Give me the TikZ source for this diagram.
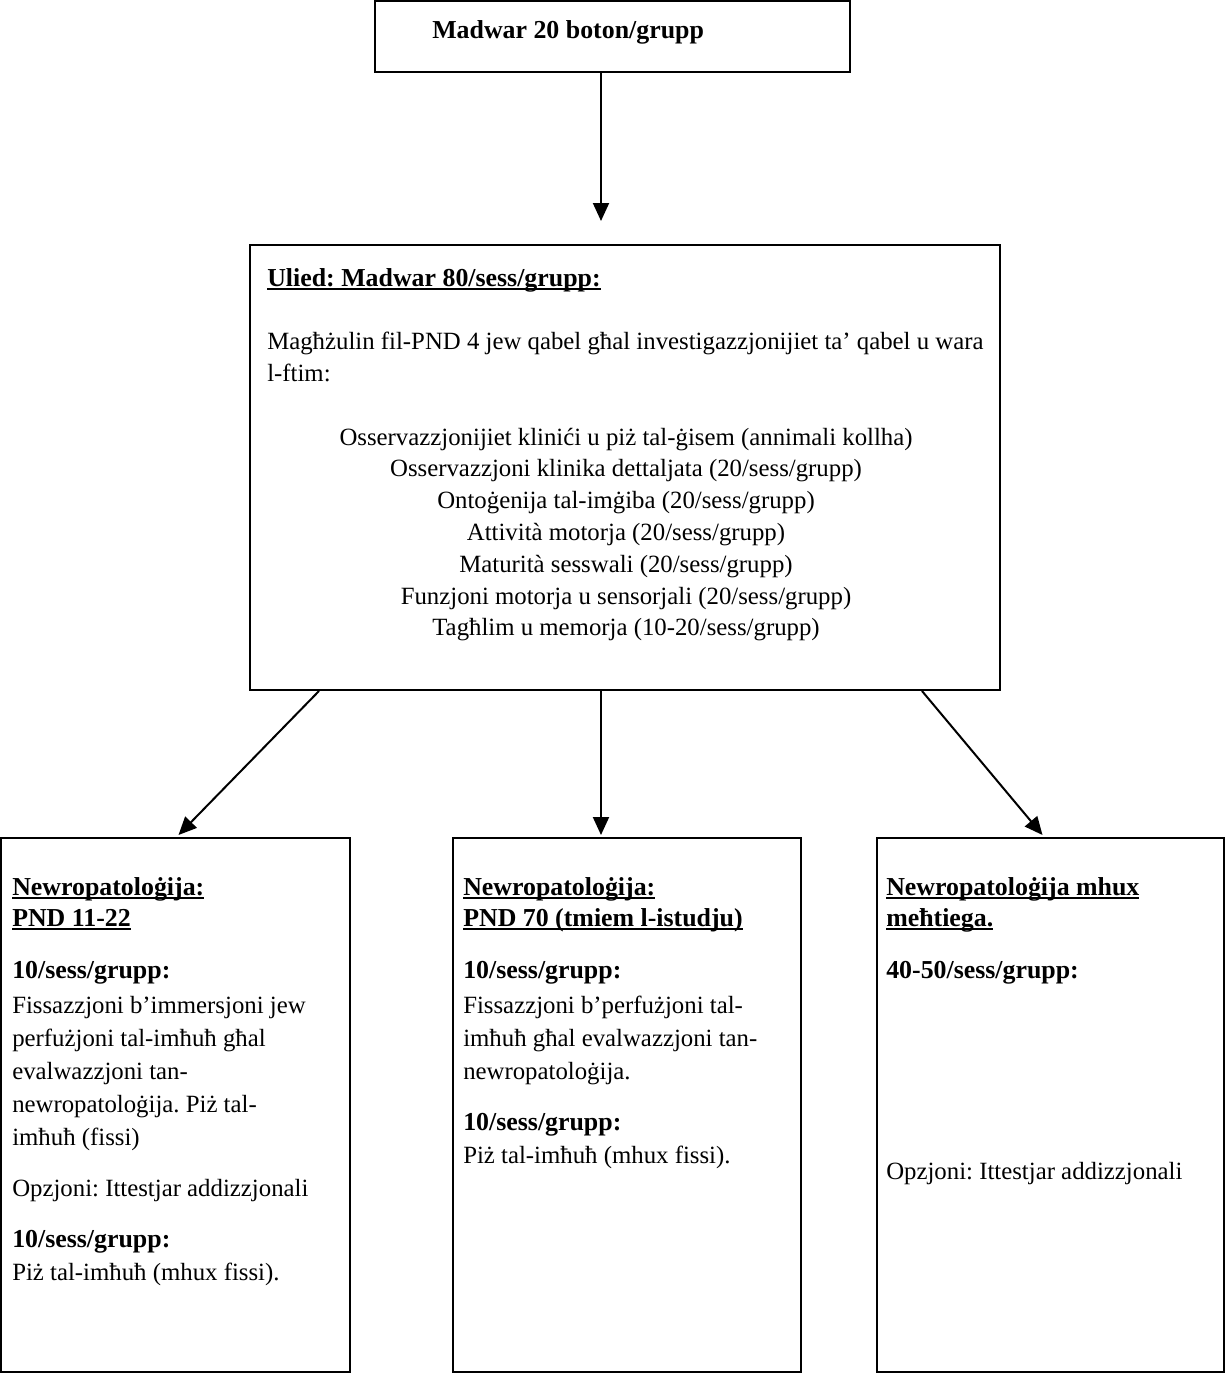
\documentclass[tikz,border=0pt]{standalone}
\usepackage{fontspec}
\setmainfont{Liberation Serif}
\usetikzlibrary{arrows.meta}
\frenchspacing
\newsavebox\ulbx
\newcommand{\myul}[1]{\sbox\ulbx{#1}\rlap{\rule[-3pt]{\wd\ulbx}{1.4pt}}\usebox\ulbx}
\begin{document}
\begin{tikzpicture}[x=0.75pt,y=-0.75pt,
  box/.style={draw, line width=1.5pt, inner sep=0pt},
  txt/.style={inner sep=0pt, anchor=base west, font=\fontsize{18.6}{24}\selectfont},
  ctxt/.style={inner sep=0pt, anchor=base, font=\fontsize{18.6}{24}\selectfont},
  hd/.style={txt, font=\fontsize{19.4}{24}\selectfont\bfseries},
  arr/.style={line width=1.5pt, -{Triangle[length=13.5pt, width=12pt]}}]
\useasboundingbox (0,0) rectangle (1226,1374);
% boxes
\node[box, minimum width=356.25pt, minimum height=53.25pt] (top) at (612.5,36.5) {};
\node[box, minimum width=562.5pt, minimum height=333.75pt] (mid) at (625,467.5) {};
\node[box, minimum width=261.75pt, minimum height=400.5pt] (b1) at (175.5,1105) {};
\node[box, minimum width=261pt, minimum height=400.5pt] (b2) at (627,1105) {};
\node[box, minimum width=260.25pt, minimum height=400.5pt] (b3) at (1050.5,1105) {};
% top text
\node[hd] (t1) at (432,38) {Madwar 20 boton/grupp};
% middle text
\node[hd] (m1) at (267,286) {\myul{Ulied: Madwar 80/sess/grupp:}};
\node[txt] (m2) at (267,349) {Magħżulin fil-PND 4 jew qabel għal investigazzjonijiet ta’ qabel u wara};
\node[txt] (m3) at (267,381) {l-ftim:};
\foreach \s [count=\i from 0] in {%
  {Osservazzjonijiet klinići u piż tal-ġisem (annimali kollha)},
  {Osservazzjoni klinika dettaljata (20/sess/grupp)},
  {Ontoġenija tal-imġiba (20/sess/grupp)},
  {Attività motorja (20/sess/grupp)},
  {Maturità sesswali (20/sess/grupp)},
  {Funzjoni motorja u sensorjali (20/sess/grupp)},
  {Tagħlim u memorja (10-20/sess/grupp)}}
  \node[ctxt] (c\i) at (626,{445+31.8*\i}) {\s};
% left bottom box
\node[hd] (l1) at (12,895) {\myul{Newropatoloġija:}};
\node[hd] (l2) at (12,926) {\myul{PND 11-22}};
\node[hd] (l3) at (12,978) {10/sess/grupp:};
\node[txt] (l4) at (12,1013) {Fissazzjoni b’immersjoni jew};
\node[txt] (l5) at (12,1046) {perfużjoni tal-imħuħ għal};
\node[txt] (l6) at (12,1079) {evalwazzjoni tan-};
\node[txt] (l7) at (12,1112) {newropatoloġija. Piż tal-};
\node[txt] (l8) at (12,1145) {imħuħ (fissi)};
\node[txt] (l9) at (12,1196) {Opzjoni: Ittestjar addizzjonali};
\node[hd] (l10) at (12,1247) {10/sess/grupp:};
\node[txt] (l11) at (12,1280) {Piż tal-imħuħ (mhux fissi).};
% middle bottom box
\node[hd] (n1) at (463,895) {\myul{Newropatoloġija:}};
\node[hd] (n2) at (463,926) {\myul{PND 70 (tmiem l-istudju)}};
\node[hd] (n3) at (463,978) {10/sess/grupp:};
\node[txt] (n4) at (463,1013) {Fissazzjoni b’perfużjoni tal-};
\node[txt] (n5) at (463,1046) {imħuħ għal evalwazzjoni tan-};
\node[txt] (n6) at (463,1079) {newropatoloġija.};
\node[hd] (n7) at (463,1130) {10/sess/grupp:};
\node[txt] (n8) at (463,1163) {Piż tal-imħuħ (mhux fissi).};
% right bottom box
\node[hd] (r1) at (886,895) {\myul{Newropatoloġija mhux}};
\node[hd] (r2) at (886,926) {\myul{meħtiega.}};
\node[hd] (r3) at (886,978) {40-50/sess/grupp:};
\node[txt] (r4) at (886,1179) {Opzjoni: Ittestjar addizzjonali};
% arrows
\draw[arr] ([xshift=-8.625pt]top.south) -- ([shift={(-24,-23)}]mid.north);
\draw[arr] ([xshift=52.5pt]mid.south west) -- ([shift={(3,-2)}]b1.north);
\draw[arr] ([xshift=-18pt]mid.south) -- ([shift={(-26,-2)}]b2.north);
\draw[arr] ([xshift=-59.25pt]mid.south east) -- ([shift={(-8,-2)}]b3.north);
\end{tikzpicture}
\end{document}
